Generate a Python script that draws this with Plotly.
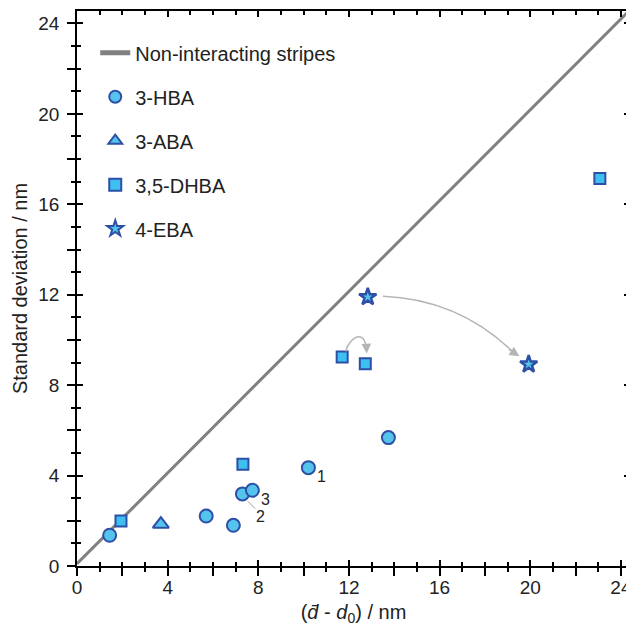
import plotly.graph_objects as go

# ---- data ----
nonint_x = [0, 24.4]
nonint_y = [0.1, 24.6]

hba_x = [1.44, 5.70, 6.90, 7.30, 7.74, 10.21, 13.74]
hba_y = [1.36, 2.21, 1.80, 3.19, 3.35, 4.35, 5.68]

aba_x = [3.70]
aba_y = [1.85]

dhba_x = [1.94, 7.32, 11.70, 12.72, 23.07]
dhba_y = [1.99, 4.50, 9.24, 8.95, 17.14]

eba_x = [12.83, 19.93]
eba_y = [11.90, 8.92]

tick_vals = [0, 2, 4, 6, 8, 10, 12, 14, 16, 18, 20, 22, 24]
tick_text = ["0", "", "4", "", "8", "", "12", "", "16", "", "20", "", "24"]

point_labels = ["1", "2", "3"]
point_label_x = [10.78, 8.08, 8.30]
point_label_y = [3.94, 2.20, 2.94]

FILL = "#55c4ec"
EDGE = "#2d4fa6"
FONT = "Liberation Sans, Arial, sans-serif"

fig = go.Figure()
fig.add_trace(go.Scatter(x=nonint_x, y=nonint_y, mode="lines",
                         line=dict(color="#808080", width=3),
                         name="Non-interacting stripes", legendgroup="g1"))
fig.add_trace(go.Scatter(x=hba_x, y=hba_y, mode="markers", name="3-HBA", legendgroup="g2",
                         marker=dict(symbol="circle", size=13, color=FILL,
                                     line=dict(color=EDGE, width=2))))
fig.add_trace(go.Scatter(x=aba_x, y=aba_y, mode="markers", name="3-ABA", legendgroup="g3",
                         marker=dict(symbol="triangle-up", size=14, color=FILL,
                                     line=dict(color=EDGE, width=2))))
fig.add_trace(go.Scatter(x=dhba_x, y=dhba_y, mode="markers", name="3,5-DHBA", legendgroup="g4",
                         marker=dict(symbol="square", size=11, color="#3dbff0",
                                     line=dict(color=EDGE, width=2))))
fig.add_trace(go.Scatter(x=eba_x, y=eba_y, mode="markers", name="4-EBA", legendgroup="g5",
                         marker=dict(symbol="star", size=13, color=FILL,
                                     line=dict(color=EDGE, width=2.5))))
# dummy trace for the overlaid tick axes
fig.add_trace(go.Scatter(x=[None], y=[None], xaxis="x2", yaxis="y2",
                         showlegend=False, hoverinfo="skip"))

# curved arrows
ARROW = "#b5b5b5"
fig.add_shape(type="path", xref="x", yref="y",
              path="M 13.5 11.93 Q 16.9 11.8 19.35 9.36",
              line=dict(color=ARROW, width=1.5))
fig.add_annotation(x=19.52, y=9.28, ax=19.0, ay=9.62, xref="x", yref="y",
                   axref="x", ayref="y", text="", showarrow=True,
                   arrowhead=2, arrowsize=1.3, arrowwidth=1.5, arrowcolor=ARROW, standoff=0)
fig.add_shape(type="path", xref="x", yref="y",
              path="M 11.85 9.5 C 12.05 10.15, 12.7 10.5, 12.77 9.6",
              line=dict(color=ARROW, width=1.5))
fig.add_annotation(x=12.78, y=9.40, ax=12.77, ay=9.75, xref="x", yref="y",
                   axref="x", ayref="y", text="", showarrow=True,
                   arrowhead=2, arrowsize=1.3, arrowwidth=1.5, arrowcolor=ARROW, standoff=0)

# point labels
for t, lx, ly in zip(point_labels, point_label_x, point_label_y):
    fig.add_annotation(x=lx, y=ly, xref="x", yref="y", text=t, showarrow=False,
                       font=dict(family=FONT, size=16, color="#222222"))
fig.add_shape(type="line", xref="x", yref="y", x0=7.54, y0=2.86, x1=7.86, y1=2.54,
              line=dict(color="#999999", width=1))

axis_common = dict(showgrid=False, zeroline=False, showline=True, automargin=False,
                   linecolor="black", linewidth=1.5, tickcolor="black", tickwidth=1.5,
                   tickmode="array", tickvals=tick_vals, ticktext=tick_text)

# the page adds an 8px body margin; figure is sized so the plot area lands where
# the reference has it (x 77..630, y 11..566 in window pixels)
fig.update_layout(
    width=626, height=622,
    margin=dict(l=69, r=4, t=3, b=64, autoexpand=False),
    paper_bgcolor="white", plot_bgcolor="white",
    font=dict(family=FONT, color="#222222"),
    showlegend=True,
    legend=dict(x=0.033, y=0.96, xanchor="left", yanchor="top", itemsizing="constant",
                font=dict(family=FONT, size=20, color="#222222"),
                tracegroupgap=15, bgcolor="rgba(0,0,0,0)"),
    xaxis=dict(**axis_common, range=[0, 24.4],
               ticks="outside", ticklen=8, mirror=True, ticklabelstandoff=-5,
               minor=dict(dtick=1, tick0=0, ticks="outside", ticklen=4,
                          tickwidth=1.5, tickcolor="black"),
               tickfont=dict(family=FONT, size=19, color="#222222"),
               title=dict(text="(<i>d\u0304</i> - <i>d</i><sub>0</sub>) / nm",
                          font=dict(family=FONT, size=20, color="#222222"), standoff=8)),
    yaxis=dict(**axis_common, range=[0, 24.55],
               ticks="outside", ticklen=8, mirror=True, ticklabelstandoff=4,
               minor=dict(dtick=1, tick0=0, ticks="outside", ticklen=4,
                          tickwidth=1.5, tickcolor="black"),
               tickfont=dict(family=FONT, size=19, color="#222222"),
               title=dict(text="Standard deviation / nm",
                          font=dict(family=FONT, size=20, color="#222222"), standoff=5)),
    xaxis2=dict(**axis_common, range=[0, 24.4], overlaying="x", matches="x",
                anchor="y2", side="bottom", ticks="inside", ticklen=6, mirror="ticks",
                showticklabels=False,
                minor=dict(dtick=1, tick0=0, ticks="inside", ticklen=4,
                           tickwidth=1.5, tickcolor="black")),
    yaxis2=dict(**axis_common, range=[0, 24.55], overlaying="y", matches="y",
                anchor="x2", side="left", ticks="inside", ticklen=6, mirror="ticks",
                showticklabels=False,
                minor=dict(dtick=1, tick0=0, ticks="inside", ticklen=4,
                           tickwidth=1.5, tickcolor="black")),
)

fig.write_html("out.html")
